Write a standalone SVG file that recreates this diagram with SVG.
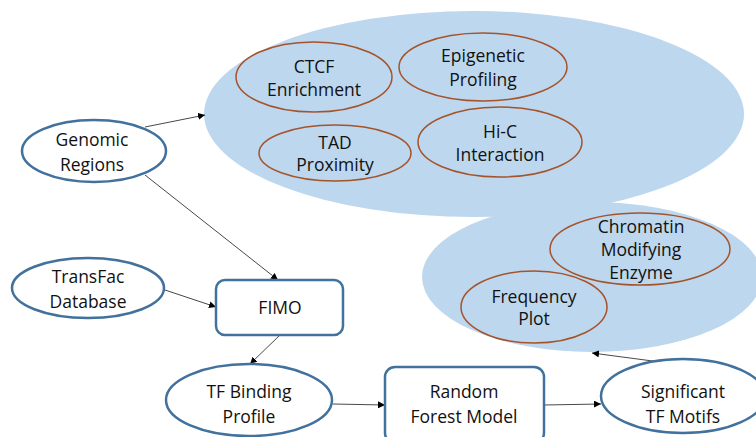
<svg xmlns="http://www.w3.org/2000/svg" width="756" height="437" viewBox="0 0 756 437">
  <defs>
    <marker id="arrow" viewBox="0 0 10 10" refX="10" refY="5" markerWidth="7" markerHeight="7" markerUnits="userSpaceOnUse" orient="auto">
      <path d="M0,0 L10,5 L0,10 z" fill="#000"/>
    </marker>
    <style>
      .group { fill: #BDD7EE; stroke: none; }
      .feature { fill: none; stroke: #A5532A; stroke-width: 1.5; }
      .node { fill: #fff; stroke: #41719C; stroke-width: 2.5; }
      .label { font-family: "Open Sans", "Liberation Sans", sans-serif; font-size: 17.5px; fill: #111; text-anchor: middle; }
      .edge { stroke: #333; stroke-width: 0.9; fill: none; marker-end: url(#arrow); }
    </style>
  </defs>

  <!-- feature clusters -->
  <g id="genomic-features">
    <ellipse class="group" cx="474" cy="114" rx="270" ry="103"/>
    <g id="ctcf">
      <ellipse class="feature" cx="314" cy="77" rx="78" ry="35"/>
      <text class="label" x="314" y="73">CTCF</text>
      <text class="label" x="314" y="96">Enrichment</text>
    </g>
    <g id="epigenetic">
      <ellipse class="feature" cx="483" cy="67" rx="84" ry="34"/>
      <text class="label" x="483" y="62">Epigenetic</text>
      <text class="label" x="483" y="86">Profiling</text>
    </g>
    <g id="tad">
      <ellipse class="feature" cx="335" cy="153" rx="76" ry="28"/>
      <text class="label" x="335" y="149">TAD</text>
      <text class="label" x="335" y="171">Proximity</text>
    </g>
    <g id="hic">
      <ellipse class="feature" cx="500" cy="142" rx="82" ry="35"/>
      <text class="label" x="500" y="138">Hi-C</text>
      <text class="label" x="500" y="161">Interaction</text>
    </g>
  </g>

  <g id="analysis-outputs">
    <ellipse class="group" cx="592" cy="277" rx="170" ry="75"/>
    <g id="chromatin">
      <ellipse class="feature" cx="640" cy="249" rx="90" ry="36"/>
      <text class="label" x="641" y="233">Chromatin</text>
      <text class="label" x="641" y="256">Modifying</text>
      <text class="label" x="641" y="279">Enzyme</text>
    </g>
    <g id="frequency">
      <ellipse class="feature" cx="534" cy="307" rx="73" ry="36"/>
      <text class="label" x="534" y="303">Frequency</text>
      <text class="label" x="534" y="325">Plot</text>
    </g>
  </g>

  <!-- connectors -->
  <g id="connectors">
    <line class="edge" x1="145" y1="127" x2="205" y2="115"/>
    <line class="edge" x1="145" y1="175" x2="278" y2="280"/>
    <line class="edge" x1="165" y1="290" x2="216" y2="307"/>
    <line class="edge" x1="279" y1="336" x2="250" y2="364"/>
    <line class="edge" x1="333" y1="404" x2="385" y2="405"/>
    <line class="edge" x1="544" y1="405" x2="601" y2="404"/>
    <line class="edge" x1="683" y1="365" x2="592" y2="353"/>
  </g>

  <!-- pipeline nodes -->
  <g id="genomic-regions">
    <ellipse class="node" cx="94" cy="151" rx="72" ry="31"/>
    <text class="label" x="92" y="146">Genomic</text>
    <text class="label" x="92" y="171">Regions</text>
  </g>
  <g id="transfac">
    <ellipse class="node" cx="88" cy="288" rx="76" ry="30"/>
    <text class="label" x="88" y="283">TransFac</text>
    <text class="label" x="88" y="308">Database</text>
  </g>
  <g id="fimo">
    <rect class="node" x="216" y="280" width="127" height="55" rx="9"/>
    <text class="label" x="280" y="314">FIMO</text>
  </g>
  <g id="tf-binding">
    <ellipse class="node" cx="249" cy="400" rx="83" ry="36"/>
    <text class="label" x="249" y="398">TF Binding</text>
    <text class="label" x="249" y="423">Profile</text>
  </g>
  <g id="random-forest">
    <rect class="node" x="385" y="367" width="159" height="76" rx="10"/>
    <text class="label" x="464" y="398">Random</text>
    <text class="label" x="464" y="423">Forest Model</text>
  </g>
  <g id="significant">
    <ellipse class="node" cx="683" cy="396" rx="82" ry="37"/>
    <text class="label" x="683" y="398">Significant</text>
    <text class="label" x="683" y="423">TF Motifs</text>
  </g>
</svg>
